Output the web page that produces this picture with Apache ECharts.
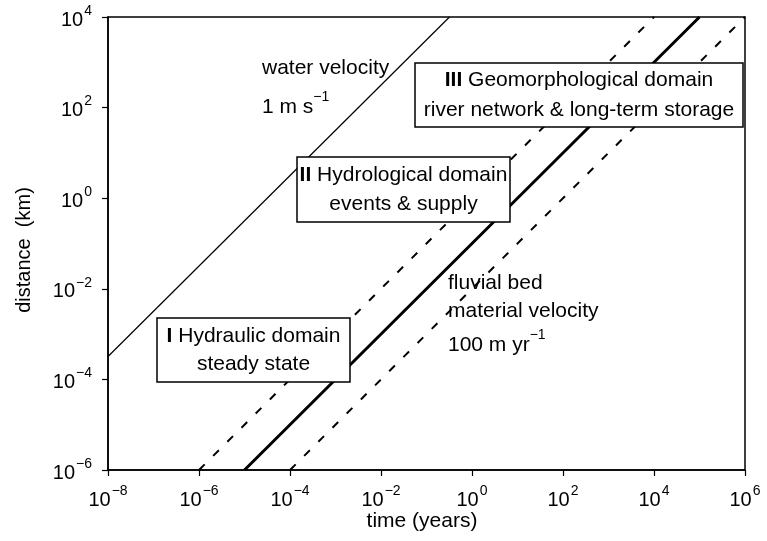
<!DOCTYPE html>
<html>
<head>
<meta charset="utf-8">
<script src="https://cdn.jsdelivr.net/npm/echarts@6/dist/echarts.min.js"></script>
<style>html,body{margin:0;padding:0;background:#fff}#c{width:767px;height:541px}</style>
</head>
<body>
<div id="c"></div>
<script>
// Data (time in years, distance in km)
var xTicksExp = [-8, -6, -4, -2, 0, 2, 4, 6];
var yTicksExp = [-6, -4, -2, 0, 2, 4];
var waterTime = [1e-8, 0.32];
var waterDist = [3.2e-4, 1e4];
var fluvialTime = [1e-5, 1e5];
var fluvialDist = [1e-6, 1e4];
var upperDashTime = [1e-6, 1e4];
var upperDashDist = [1e-6, 1e4];
var lowerDashTime = [1e-4, 1e6];
var lowerDashDist = [1e-6, 1e4];

var FONT = "'Liberation Sans', Arial, Helvetica, sans-serif";
function pairs(t, d) { return t.map(function (v, i) { return [v, d[i]]; }); }
function supFmt(v) {
  var e = Math.round(Math.log10(v));
  return '{n|10}{s|' + String(e).replace('-', '\u2212') + '}';
}
var rich = {
  n: { fontSize: 20, fontFamily: FONT, color: '#000', lineHeight: 26, verticalAlign: 'bottom' },
  s: { fontSize: 14, fontFamily: FONT, color: '#000', lineHeight: 26, verticalAlign: 'top', padding: [0, 0, 0, 1] }
};
var chart = echarts.init(document.getElementById('c'));
var grid = { left: 108, right: 22, top: 17, bottom: 71, show: true, borderColor: '#000', borderWidth: 1.5 };
var option = {
  animation: false,
  backgroundColor: '#fff',
  grid: grid,
  xAxis: {
    type: 'log', logBase: 10, min: 1e-8, max: 1e6, interval: 2,
    axisLine: { lineStyle: { color: '#000', width: 1.5 } },
    axisTick: { length: 6, lineStyle: { color: '#000', width: 1.2 } },
    splitLine: { show: false },
    minorTick: { show: false },
    axisLabel: { formatter: supFmt, rich: rich, margin: 14 }
  },
  yAxis: {
    type: 'log', logBase: 10, min: 1e-6, max: 1e4, interval: 2,
    axisLine: { lineStyle: { color: '#000', width: 1.5 } },
    axisTick: { length: 6, lineStyle: { color: '#000', width: 1.2 } },
    splitLine: { show: false },
    axisLabel: { formatter: supFmt, rich: rich, margin: 16 }
  },
  series: [
    { type: 'line', data: pairs(waterTime, waterDist), showSymbol: false, lineStyle: { color: '#000', width: 1.2 }, z: 2 },
    { type: 'line', data: pairs(fluvialTime, fluvialDist), showSymbol: false, lineStyle: { color: '#000', width: 3 }, z: 2 },
    { type: 'line', data: pairs(upperDashTime, upperDashDist), showSymbol: false, lineStyle: { color: '#000', width: 2, type: [8, 12] }, z: 2 },
    { type: 'line', data: pairs(lowerDashTime, lowerDashDist), showSymbol: false, lineStyle: { color: '#000', width: 2, type: [8, 12] }, z: 2 }
  ],
  graphic: []
};
chart.setOption(option);

var FS = 21;
var richAnn = {
  b: { fontSize: FS, fontFamily: FONT, fontWeight: 'bold' },
  s: { fontSize: 14, fontFamily: FONT, verticalAlign: 'top', lineHeight: 28 },
  t: { fontSize: FS, fontFamily: FONT, lineHeight: 28, verticalAlign: 'bottom' }
};
function box(x1, y1, x2, y2, text, lh) {
  return [
    { type: 'rect', z: 50, shape: { x: x1, y: y1, width: x2 - x1, height: y2 - y1 }, style: { fill: '#fff', stroke: '#000', lineWidth: 1.5 } },
    { type: 'text', z: 51, x: (x1 + x2) / 2, y: (y1 + y2) / 2, style: { text: text, fontSize: FS, fontFamily: FONT, fill: '#000', align: 'center', verticalAlign: 'middle', lineHeight: lh, rich: { b: { fontSize: FS, fontFamily: FONT, fontWeight: 'bold', lineHeight: lh } } } }
  ];
}
function label(x, y, text) {
  return { type: 'text', z: 51, x: x, y: y, style: { text: text, fontSize: FS, fontFamily: FONT, fill: '#000', verticalAlign: 'middle', rich: richAnn } };
}
var g = [];
g = g.concat(box(157, 318, 350, 382, '{b|I} Hydraulic domain\nsteady state', 28));
g = g.concat(box(297, 157, 510, 222, '{b|II} Hydrological domain\nevents & supply', 29));
g = g.concat(box(415, 63, 743, 127, '{b|III} Geomorphological domain\nriver network & long-term storage', 30));
g.push(label(262, 68, 'water velocity'));
g.push(label(262, 104, '{t|1 m s}{s|\u22121}'));
g.push(label(448, 283, 'fluvial bed'));
g.push(label(448, 311, 'material velocity'));
g.push(label(448, 342, '{t|100 m yr}{s|\u22121}'));
g.push({ type: 'text', z: 51, x: 422, y: 521, style: { text: 'time (years)', fontSize: FS, fontFamily: FONT, fill: '#000', align: 'center', verticalAlign: 'middle' } });
g.push({ type: 'text', z: 51, x: 24, y: 250, rotation: Math.PI / 2, style: { text: 'distance  (km)', fontSize: 20, fontFamily: FONT, fill: '#000', align: 'center', verticalAlign: 'middle' } });
chart.setOption({ graphic: g });
</script>
</body>
</html>
